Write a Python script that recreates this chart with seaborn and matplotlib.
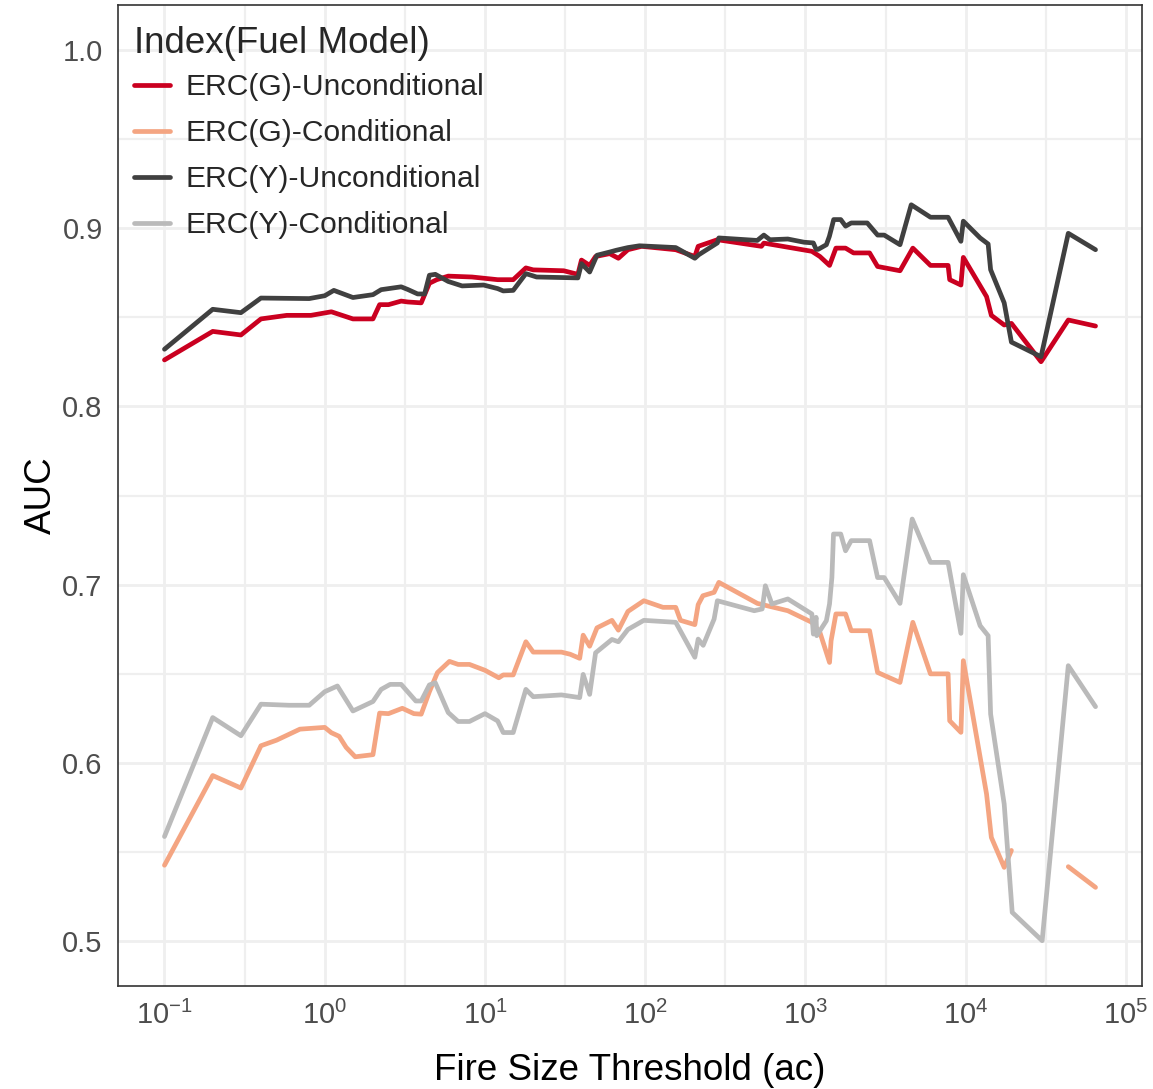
import numpy as np
import pandas as pd
import matplotlib
matplotlib.use("Agg")
import matplotlib.pyplot as plt
import matplotlib.ticker as mticker
import seaborn as sns

# series names and colours (RdGy palette as in the original)
series_names = ["ERC(G)-Unconditional", "ERC(G)-Conditional",
                "ERC(Y)-Unconditional", "ERC(Y)-Conditional"]
series_colors = ["#CA0020", "#F4A582", "#404040", "#BABABA"]

# ERC(G)-Unconditional
g_uncond_x = [0.1, 0.2, 0.3, 0.4, 0.58, 0.82, 0.95, 1.1, 1.5, 2.0, 2.2, 2.5, 3.0, 3.3,
              4.0, 4.5, 5.0, 5.9, 8.3, 12, 15, 18, 20, 31, 38, 40, 45, 49, 60, 68, 78,
              95, 155, 204, 214, 282, 531, 550, 1096, 1230, 1413, 1549, 1778, 1995,
              2512, 2818, 3890, 4677, 6026, 7762, 7943, 9333, 9661, 13490, 14450,
              17380, 19280, 29510, 43650, 64570]
g_uncond_auc = [0.826, 0.842, 0.840, 0.849, 0.851, 0.851, 0.852, 0.853, 0.849, 0.849,
                0.857, 0.857, 0.859, 0.8585, 0.858, 0.869, 0.871, 0.873, 0.8725, 0.871,
                0.871, 0.8776, 0.8765, 0.876, 0.874, 0.882, 0.879, 0.884, 0.8856, 0.883,
                0.8878, 0.8897, 0.8878, 0.884, 0.8897, 0.8934, 0.8897, 0.8915, 0.8869,
                0.884, 0.879, 0.8887, 0.8887, 0.886, 0.886, 0.8784, 0.876, 0.8887,
                0.879, 0.879, 0.871, 0.868, 0.8835, 0.8615, 0.851, 0.8456, 0.8465,
                0.825, 0.8484, 0.845]

# ERC(G)-Conditional (no value at ~3e4)
g_cond_x = [0.1, 0.2, 0.3, 0.4, 0.5, 0.7, 1.0, 1.1, 1.23, 1.36, 1.55, 2.0, 2.2, 2.5,
            3.05, 3.6, 4.0, 4.5, 5.05, 6.0, 6.8, 8.0, 10, 12.2, 13, 15, 18, 20, 30, 34,
            39, 41, 45, 50, 62, 68, 78, 98, 129, 155, 166, 204, 214, 229, 269, 288,
            501, 776, 1096, 1230, 1413, 1445, 1549, 1778, 1930, 2512, 2818, 3890,
            4677, 6026, 7762, 7943, 9333, 9661, 13490, 14450, 17380, 19280, 29510,
            43650, 64570]
g_cond_auc = [0.5427, 0.593, 0.586, 0.6097, 0.6128, 0.619, 0.620, 0.617, 0.615, 0.6088,
              0.6035, 0.6047, 0.628, 0.6277, 0.6307, 0.6277, 0.6274, 0.640, 0.6507,
              0.657, 0.6553, 0.6553, 0.652, 0.6478, 0.6494, 0.6494, 0.668, 0.6622,
              0.6622, 0.661, 0.6587, 0.6717, 0.6655, 0.6758, 0.680, 0.6745, 0.685,
              0.691, 0.6873, 0.6873, 0.680, 0.6776, 0.6888, 0.6938, 0.6957, 0.7013,
              0.6895, 0.6854, 0.6789, 0.6733, 0.6564, 0.6686, 0.6836, 0.6836, 0.6742,
              0.6742, 0.6508, 0.6452, 0.6789, 0.650, 0.650, 0.6237, 0.6172, 0.6574,
              0.5826, 0.5583, 0.5415, 0.551, np.nan, 0.5419, 0.5303]

# ERC(Y)-Unconditional
y_uncond_x = [0.1, 0.2, 0.3, 0.4, 0.8, 1.0, 1.14, 1.5, 2.0, 2.25, 3.0, 3.3, 3.8, 4.2,
              4.5, 4.9, 5.9, 7.2, 9.8, 12, 13, 15, 18, 21, 38, 40, 45, 50, 60, 66, 78,
              92, 155, 204, 216, 282, 288, 500, 550, 600, 776, 980, 1120, 1165, 1200,
              1350, 1410, 1500, 1660, 1780, 1930, 2430, 2820, 3100, 3890, 4570, 6030,
              7760, 9330, 9660, 12300, 13800, 14300, 17380, 19280, 29510, 43650, 64570]
y_uncond_auc = [0.832, 0.8544, 0.8525, 0.8607, 0.8604, 0.862, 0.865, 0.861, 0.8626,
                0.8654, 0.867, 0.8655, 0.863, 0.863, 0.8735, 0.874, 0.870, 0.8675,
                0.868, 0.866, 0.8647, 0.865, 0.8744, 0.8725, 0.872, 0.880, 0.8753,
                0.8847, 0.8865, 0.8875, 0.889, 0.890, 0.889, 0.883, 0.885, 0.8916,
                0.8944, 0.893, 0.896, 0.8934, 0.8938, 0.892, 0.8916, 0.888, 0.888,
                0.8906, 0.8953, 0.9047, 0.9047, 0.901, 0.9028, 0.9028, 0.896, 0.896,
                0.8906, 0.913, 0.906, 0.906, 0.8925, 0.9038, 0.8944, 0.891, 0.8766,
                0.858, 0.836, 0.8278, 0.897, 0.8878]

# ERC(Y)-Conditional
y_cond_x = [0.1, 0.2, 0.3, 0.4, 0.6, 0.8, 1.0, 1.2, 1.5, 2.0, 2.25, 2.56, 3.0, 3.7,
            4.0, 4.5, 4.9, 5.9, 6.8, 8.0, 10, 12, 13, 15, 18, 20, 30, 39, 41, 45, 49,
            62, 68, 78, 98, 155, 204, 214, 230, 269, 282, 479, 537, 562, 617, 776,
            1096, 1120, 1165, 1175, 1350, 1413, 1462, 1496, 1660, 1778, 1930, 2512,
            2818, 3100, 3890, 4634, 6026, 7762, 9333, 9661, 12300, 13800, 14300,
            17380, 19500, 29990, 43650, 64570]
y_cond_auc = [0.5588, 0.6255, 0.6153, 0.633, 0.6324, 0.6324, 0.640, 0.6432, 0.6292,
              0.6345, 0.6413, 0.6441, 0.6441, 0.6348, 0.6348, 0.6438, 0.645, 0.6283,
              0.6233, 0.6233, 0.6277, 0.6236, 0.6171, 0.6171, 0.6413, 0.6372, 0.6382,
              0.6367, 0.6497, 0.6385, 0.6618, 0.6693, 0.668, 0.6749, 0.680, 0.6789,
              0.6593, 0.6695, 0.666, 0.6807, 0.691, 0.6854, 0.6864, 0.6994, 0.6892,
              0.692, 0.6836, 0.6723, 0.6817, 0.6714, 0.6798, 0.6892, 0.7041, 0.7284,
              0.7284, 0.719, 0.7247, 0.7247, 0.704, 0.704, 0.6895, 0.7368, 0.7125,
              0.7125, 0.6727, 0.7056, 0.677, 0.6714, 0.6275, 0.577, 0.5163, 0.5004,
              0.6546, 0.6316]

y_ticks = [0.5, 0.6, 0.7, 0.8, 0.9, 1.0]
x_decades = [-1, 0, 1, 2, 3, 4, 5]

# long table; NaN breaks a line into separate segments
frames = []
for name, xs, ys in zip(series_names,
                        [g_uncond_x, g_cond_x, y_uncond_x, y_cond_x],
                        [g_uncond_auc, g_cond_auc, y_uncond_auc, y_cond_auc]):
    d = pd.DataFrame({"threshold": xs, "auc": ys})
    d["index"] = name
    d["seg"] = name + d["auc"].isna().cumsum().astype(str)
    frames.append(d.dropna())
df = pd.concat(frames, ignore_index=True)

sns.set_style("white")
plt.rcParams['font.family'] = ['Liberation Sans', 'DejaVu Sans']
plt.rcParams['mathtext.default'] = 'regular'

fig = plt.figure(figsize=(11.53, 10.89), dpi=100)
ax = fig.add_axes([118 / 1153, 1 - 986 / 1089, 1024 / 1153, 981 / 1089])
ax.set_xscale('log')

sns.lineplot(data=df, x="threshold", y="auc", hue="index", hue_order=series_names,
             palette=dict(zip(series_names, series_colors)), units="seg",
             estimator=None, linewidth=3.4, ax=ax, legend=False)

ax.set_xlim(10 ** -1.29, 10 ** 5.1)
ax.set_ylim(0.475, 1.025)
ax.xaxis.set_major_locator(mticker.FixedLocator([10.0 ** k for k in x_decades]))
ax.xaxis.set_minor_locator(mticker.FixedLocator([10.0 ** (k + 0.5) for k in x_decades]))
ax.xaxis.set_major_formatter(mticker.LogFormatterSciNotation())
ax.xaxis.set_minor_formatter(mticker.NullFormatter())
ax.yaxis.set_major_locator(mticker.FixedLocator(y_ticks))
ax.yaxis.set_minor_locator(mticker.FixedLocator([v + 0.05 for v in y_ticks[:-1]]))
ax.yaxis.set_major_formatter(mticker.FormatStrFormatter('%.1f'))

ax.grid(which='major', color='#EFEFEF', linewidth=2.0)
ax.grid(which='minor', color='#EFEFEF', linewidth=1.6)
ax.set_axisbelow(True)
for s in ax.spines.values():
    s.set_color('#333333')
    s.set_linewidth(1.2)
ax.tick_params(which='major', length=6, width=1.2, color='#333333',
               labelsize=21, labelcolor='#4D4D4D', pad=5)
ax.tick_params(which='minor', length=0)

ax.set_xlabel("Fire Size Threshold (ac)", fontsize=26.5, color='black')
ax.set_ylabel("AUC", fontsize=26.5, color='black')
ax.xaxis.set_label_coords(0.5, -0.068)
ax.yaxis.set_label_coords(-0.058, 0.5)

handles = [plt.Line2D([], [], color=c, linewidth=3.4) for c in series_colors]
leg = ax.legend(handles, series_names, title="Index(Fuel Model)", loc='upper left',
                bbox_to_anchor=(0.016, 0.979), frameon=False, fontsize=21.6,
                title_fontsize=26.5, handlelength=1.2, handletextpad=0.5,
                labelspacing=0.6, borderpad=0, borderaxespad=0)
leg._legend_box.align = "left"
leg._legend_box.sep = 9.2  # tighter gap between title and first entry

fig.savefig("out.png", dpi=100)
